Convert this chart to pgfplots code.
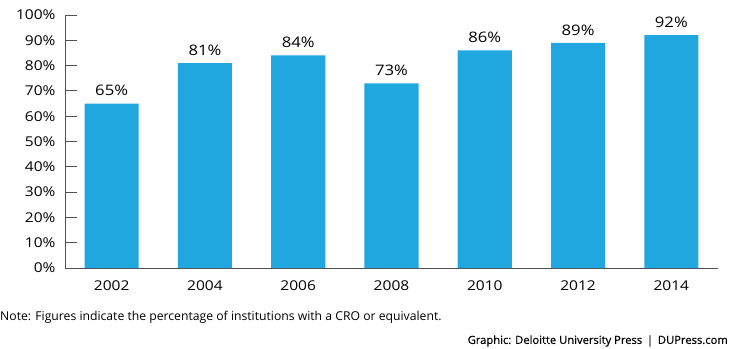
\documentclass[border=0pt]{standalone}
\usepackage{pgfplots}
\pgfplotsset{compat=1.18}
\usepackage{fontspec}
\setmainfont{Open Sans}
\newfontfamily\widefont[FakeStretch=1.15]{Open Sans}
\newfontfamily\credfont[FakeBold=0.5]{Open Sans}
\definecolor{barblue}{RGB}{33,167,224}
\definecolor{axgray}{RGB}{80,80,80}
\begin{document}
\begin{tikzpicture}
\begin{axis}[
  scale only axis,
  width=653pt, height=253pt,
  xmin=-0.5, xmax=6.5, ymin=0, ymax=100,
  axis x line=bottom, axis y line=left,
  axis line style={axgray, line width=0.8pt, -},
  tick style={axgray, line width=0.8pt},
  tick align=inside,
  xtick={0,1,2,3,4,5,6},
  xticklabels={2002,2004,2006,2008,2010,2012,2014},
  xtick style={draw=none},
  extra x ticks={0.5,1.5,2.5,3.5,4.5,5.5,6.5},
  extra x tick labels={},
  extra x tick style={tick style={axgray, line width=0.8pt, /pgfplots/major tick length=5pt}},
  ytick={0,10,...,100},
  ytick style={/pgfplots/major tick length=12pt},
  yticklabel={\pgfmathprintnumber{\tick}\%},
  /pgf/number format/assume math mode=true,
  ticklabel style={font=\widefont\fontsize{13.5}{15}\selectfont, text=black},
  yticklabel style={xshift=-6pt},
  xticklabel style={yshift=-5pt},
  ybar, bar width=0.58,
  nodes near coords={\pgfmathprintnumber{\pgfplotspointmeta}\%},
  nodes near coords style={font=\widefont\fontsize{14.5}{16}\selectfont, yshift=4pt},
  clip=false,
]
\addplot[fill=barblue, draw=none] coordinates {(0,65) (1,81) (2,84) (3,73) (4,86) (5,89) (6,92)};
\end{axis}
\node[anchor=west, font=\fontsize{12.2}{14}\selectfont, inner sep=0pt] at (-65pt,-49pt) {Note: Figures indicate the percentage of institutions with a CRO or equivalent.};
\node[anchor=east, font=\credfont\fontsize{11.2}{13}\selectfont, inner sep=0pt] at (663pt,-73pt) {Graphic: Deloitte University Press \,|\, DUPress.com};
\useasboundingbox (-65pt,-80pt) rectangle (665pt,268pt);
\end{tikzpicture}
\end{document}
